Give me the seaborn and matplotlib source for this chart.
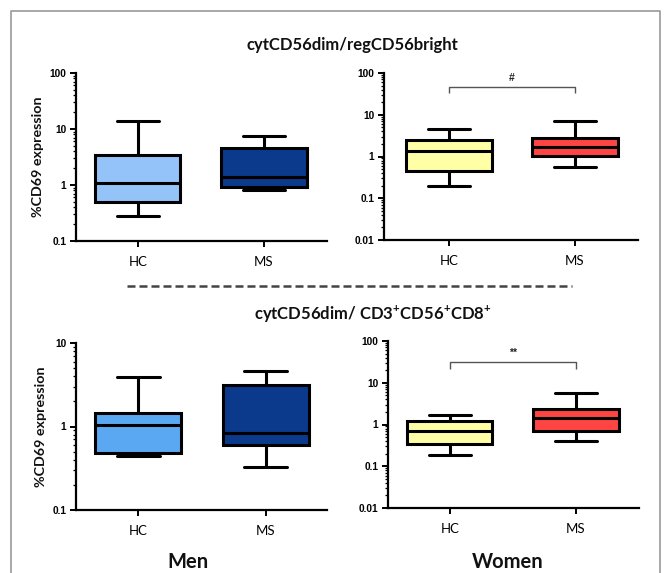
import numpy as np
import pandas as pd
import matplotlib
matplotlib.use("Agg")
import matplotlib.pyplot as plt
from matplotlib.lines import Line2D
from matplotlib.ticker import FixedLocator, FixedFormatter, NullFormatter
import seaborn as sns

# ---- data (five-number summaries: min, Q1, median, Q3, max)
groups = ["HC", "MS"]
men_top_HC = [0.28, 0.50, 1.10, 3.39, 13.9]
men_top_MS = [0.81, 0.93, 1.41, 4.64, 7.4]
women_top_HC = [0.193, 0.457, 1.33, 2.53, 4.56]
women_top_MS = [0.56, 1.01, 1.66, 2.77, 7.08]
men_bot_HC = [0.44, 0.478, 1.05, 1.45, 3.88]
men_bot_MS = [0.327, 0.605, 0.836, 3.17, 4.58]
women_bot_HC = [0.19, 0.344, 0.69, 1.22, 1.67]
women_bot_MS = [0.41, 0.71, 1.46, 2.32, 5.6]

title_top = "cytCD56dim/regCD56bright"
title_bot = "cytCD56dim/ CD3$^{\\mathbf{+}}$CD56$^{\\mathbf{+}}$CD8$^{\\mathbf{+}}$"
ylabel = "%CD69 expression"
sig_top = "#"
sig_bot = "**"
bracket_top = (46, 34)   # bracket height, tick end
bracket_bot = (32, 21)

sns.set_theme(style="white")
plt.rcParams["font.family"] = ["Lato", "DejaVu Sans"]
plt.rcParams["mathtext.fontset"] = "custom"
plt.rcParams["mathtext.bf"] = "Lato:bold"
plt.rcParams["mathtext.rm"] = "Lato:bold"

fig = plt.figure(figsize=(6.65, 5.73), dpi=100)
W, H = 665, 573


def add_ax(x0, x1, y0, y1):
    return fig.add_axes([x0 / W, 1 - y1 / H, (x1 - x0) / W, (y1 - y0) / H])


def draw(ax, hc, ms, colors, ylim, xlim, ticks):
    df = pd.DataFrame({
        "group": ["HC"] * len(hc) + ["MS"] * len(ms),
        "value": list(hc) + list(ms),
    })
    ax.set_yscale("log")
    sns.boxplot(data=df, x="group", y="value", hue="group", order=groups,
                hue_order=groups, palette=colors, saturation=1, legend=False,
                whis=(0, 100), width=0.675, linewidth=2.2, linecolor="black",
                showfliers=False, ax=ax)
    ax.set_ylim(*ylim)
    ax.set_xlim(*xlim)
    ax.set_xlabel("")
    ax.set_ylabel("")
    for s in ["top", "right"]:
        ax.spines[s].set_visible(False)
    for s in ["left", "bottom"]:
        ax.spines[s].set_linewidth(1.6)
        ax.spines[s].set_color("black")
    ax.yaxis.set_major_locator(FixedLocator(ticks))
    ax.yaxis.set_major_formatter(FixedFormatter([("%g" % t) for t in ticks]))
    decs = np.log10(ticks[:-1])
    minor = np.concatenate([np.arange(2, 10) * 10.0 ** d for d in decs])
    ax.yaxis.set_minor_locator(FixedLocator(minor))
    ax.yaxis.set_minor_formatter(NullFormatter())
    ax.yaxis.set_tick_params(which="major", direction="out", length=4, width=1.4,
                             color="black", labelcolor="black", labelsize=7.3,
                             pad=3, left=True)
    ax.yaxis.set_tick_params(which="minor", direction="out", length=2.4,
                             width=0.9, color="black", left=True)
    ax.xaxis.set_tick_params(which="major", direction="out", length=4, width=1.4,
                             color="black", labelcolor="black", labelsize=9.5,
                             pad=7, bottom=True)
    for lab in ax.get_yticklabels():
        lab.set_fontfamily(["Liberation Sans", "DejaVu Sans"])
        lab.set_fontweight("bold")
    ax.set_facecolor("none")


def bracket(ax, ys, text):
    y, yend = ys
    ax.plot([0, 0, 1, 1], [yend, y, y, yend], color="#555555", lw=1.0,
            solid_capstyle="butt", clip_on=False)
    ax.text(0.5, y * 1.25, text, ha="center", va="bottom", fontsize=7.5,
            fontweight="bold", color="#222222",
            fontfamily=["Liberation Sans", "DejaVu Sans"])


blue_light = "#93C3F8"
blue_mid = "#5AA8F2"
navy = "#0B3A8C"
yellow = "#FFFFA6"
red = "#FF4444"

ax1 = add_ax(76, 327, 73, 241)
draw(ax1, men_top_HC, men_top_MS, [blue_light, navy], (0.1, 100), (-0.49, 1.5),
     [0.1, 1, 10, 100])
ax2 = add_ax(384, 638, 73, 240)
draw(ax2, women_top_HC, women_top_MS, [yellow, red], (0.01, 100), (-0.516, 1.5),
     [0.01, 0.1, 1, 10, 100])
bracket(ax2, bracket_top, sig_top)
ax3 = add_ax(76, 327, 343, 510)
draw(ax3, men_bot_HC, men_bot_MS, [blue_mid, navy], (0.1, 10), (-0.488, 1.48),
     [0.1, 1, 10])
ax4 = add_ax(388, 639, 341, 508)
draw(ax4, women_bot_HC, women_bot_MS, [yellow, red], (0.01, 100), (-0.49, 1.5),
     [0.01, 0.1, 1, 10, 100])
bracket(ax4, bracket_bot, sig_bot)

# y labels
fig.text(38 / W, 1 - 157 / H, ylabel, rotation=90, ha="center", va="center",
         fontsize=10.3, fontweight="bold", color="#111111")
fig.text(41 / W, 1 - 427 / H, ylabel, rotation=90, ha="center", va="center",
         fontsize=10.3, fontweight="bold", color="#111111")

# titles
fig.text(352 / W, 1 - 45 / H, title_top, ha="center", va="center",
         fontsize=12, fontweight="bold", color="#111111")
fig.text(373 / W, 1 - 313 / H, title_bot, ha="center", va="center",
         fontsize=12, fontweight="bold", color="#111111")

# group labels
fig.text(188 / W, 1 - 562 / H, "Men", ha="center", va="center",
         fontsize=14.5, fontweight="bold", color="#111111")
fig.text(508 / W, 1 - 562 / H, "Women", ha="center", va="center",
         fontsize=14.5, fontweight="bold", color="#111111")

# dashed separator
fig.add_artist(Line2D([127 / W, 572 / W], [1 - 286 / H, 1 - 286 / H],
                      transform=fig.transFigure, color="#444444", lw=1.8,
                      linestyle=(0, (3.2, 1.6))))

# frame border (left, top, right)
fig.add_artist(Line2D([11 / W, 11 / W, 660 / W, 660 / W],
                      [0, 1 - 11 / H, 1 - 11 / H, 0],
                      transform=fig.transFigure, color="#9a9a9a", lw=1.2))

fig.savefig("out.png", dpi=100, facecolor="white")
